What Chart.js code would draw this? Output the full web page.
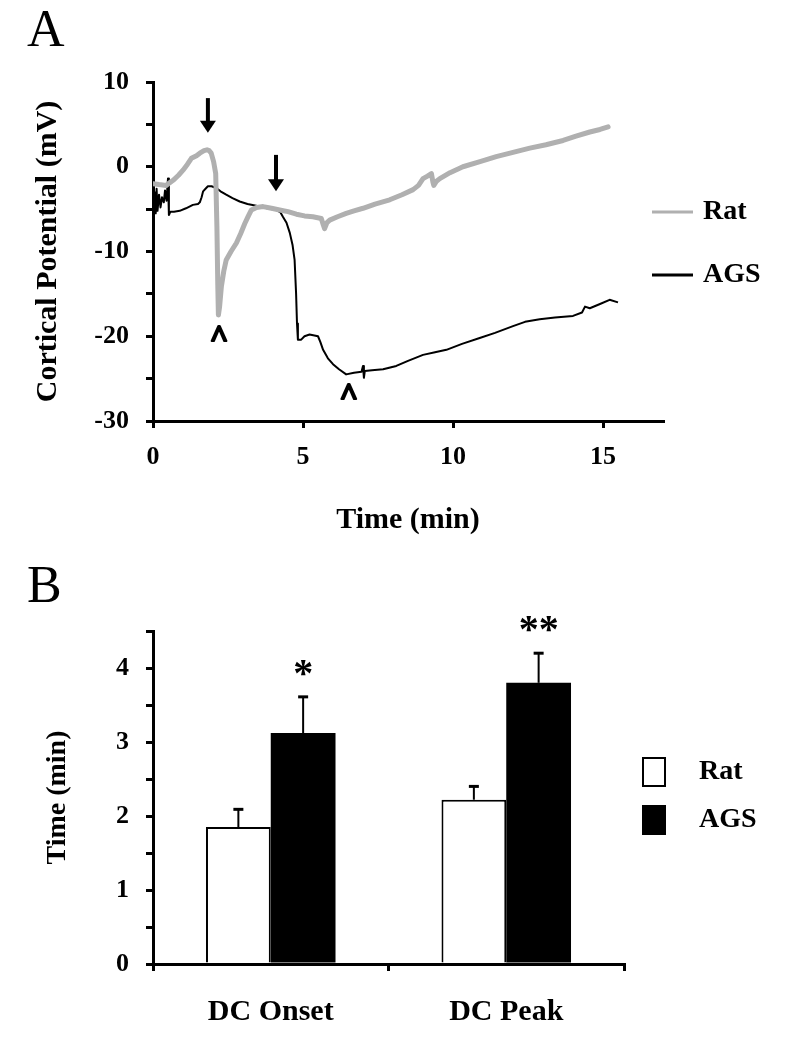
<!DOCTYPE html>
<html><head><meta charset="utf-8">
<script src="https://cdn.jsdelivr.net/npm/chart.js@4.4.1/dist/chart.umd.min.js"></script>
<style>
body{margin:0;background:#fff;width:786px;height:1050px;position:relative;overflow:hidden;font-family:"Liberation Serif","Times New Roman",serif}
.panel{position:absolute;left:27px;font-size:52px;line-height:1;font-family:"Liberation Serif","Times New Roman",serif;color:#000}
#cA{position:absolute;left:0;top:0}
#cB{position:absolute;left:0;top:540px}
</style></head><body>
<canvas id="cA" width="786" height="545"></canvas>
<canvas id="cB" width="786" height="510"></canvas>
<div class="panel" style="top:3px">A</div>
<div class="panel" style="top:559px">B</div>
<script>
// ---------- Panel A data ----------
const ratTime = [0,0.2,0.44,0.55,0.67,0.85,1.0,1.15,1.28,1.45,1.56,1.7,1.8,1.87,1.94,2.02,2.09,2.13,2.16,2.18,2.22,2.28,2.36,2.44,2.6,2.78,2.92,3.06,3.18,3.28,3.45,3.67,3.95,4.22,4.5,4.78,5.05,5.33,5.61,5.68,5.72,5.8,5.89,6.15,6.44,6.7,7.0,7.4,7.89,8.3,8.67,8.85,9.0,9.15,9.28,9.33,9.36,9.45,9.56,9.9,10.33,10.9,11.44,12.0,12.56,13.1,13.67,14.1,14.56,14.9,15.17];
const ratMv   = [-2.0,-2.1,-2.2,-1.9,-1.6,-1.0,-0.4,0.3,1.0,1.3,1.6,1.9,2.0,1.9,1.6,0.6,-0.8,-7.0,-14,-17.5,-16.5,-14.1,-12.3,-11.0,-10.0,-9.0,-7.9,-6.7,-5.8,-5.1,-4.8,-4.7,-4.9,-5.1,-5.3,-5.6,-5.8,-5.9,-6.1,-6.9,-7.3,-6.6,-6.3,-5.9,-5.5,-5.2,-4.9,-4.4,-3.9,-3.3,-2.7,-2.2,-1.4,-1.1,-0.8,-1.8,-2.2,-1.7,-1.4,-0.7,0.0,0.6,1.2,1.7,2.2,2.6,3.1,3.6,4.1,4.4,4.7];
const agsTime = [0,0.03,0.06,0.09,0.12,0.15,0.2,0.25,0.3,0.36,0.4,0.45,0.5,0.53,0.58,0.7,0.89,1.1,1.33,1.5,1.56,1.62,1.67,1.75,1.83,1.95,2.11,2.25,2.44,2.65,2.89,3.15,3.44,3.8,4.11,4.25,4.33,4.45,4.56,4.65,4.72,4.77,4.8,4.83,4.94,5.05,5.22,5.38,5.5,5.58,5.67,5.83,6.0,6.2,6.44,6.7,6.95,7.0,7.03,7.06,7.3,7.67,8.11,8.5,9.0,9.4,9.78,10.3,10.89,11.4,12.0,12.4,12.89,13.4,14.0,14.3,14.4,14.56,14.9,15.22,15.5];
const agsMv   = [-2.4,-5.0,-3.0,-5.5,-2.6,-5.2,-3.3,-4.8,-3.6,-4.2,-2.8,-4.0,-1.4,-5.7,-5.3,-5.3,-5.2,-4.9,-4.5,-4.4,-4.2,-3.6,-2.9,-2.6,-2.3,-2.3,-2.5,-2.9,-3.3,-3.7,-4.1,-4.4,-4.6,-4.9,-5.1,-5.4,-5.9,-6.6,-7.8,-9.2,-11.0,-15,-18.5,-20.4,-20.4,-20.0,-19.8,-19.9,-20.0,-20.7,-21.6,-22.6,-23.3,-23.9,-24.5,-24.3,-24.2,-23.5,-24.9,-24.1,-24.0,-23.9,-23.5,-22.9,-22.2,-21.9,-21.6,-20.9,-20.2,-19.6,-18.8,-18.3,-18.0,-17.8,-17.6,-17.2,-16.5,-16.7,-16.2,-15.7,-16.0];
const xTicksA = [0,5,10,15];
// annotations (data units)
const arrowT    = [1.83, 4.1];
const arrowFrom = [8.1, 1.4];
const arrowTo   = [4.0, -2.9];
const caretT    = [2.2, 6.53];
const caretMv   = [-19.4, -26.2];

// ---------- Panel B data ----------
const categoriesB = ['DC Onset','DC Peak'];
const ratMin  = [1.85, 2.22];
const ratSem  = [0.24, 0.18];
const agsMin  = [3.12, 3.80];
const agsSem  = [0.49, 0.40];
const sigMarks = ['*','**'];

const SERIF = '"Liberation Serif","Times New Roman",serif';
Chart.defaults.font.family = SERIF;
Chart.defaults.color = '#000';

function pts(xs, ys){ return xs.map((x,i)=>({x:x, y:ys[i]})); }

const annotA = {
  id:'annotA',
  afterDatasetsDraw(chart){
    const ctx = chart.ctx, xs = chart.scales.x, ys = chart.scales.y;
    ctx.save();
    ctx.fillStyle = '#000'; ctx.strokeStyle = '#000';
    arrowT.forEach((t,i)=>{
      const x = xs.getPixelForValue(t);
      const y0 = ys.getPixelForValue(arrowFrom[i]);
      const y1 = ys.getPixelForValue(arrowTo[i]);
      ctx.lineWidth = 4;
      ctx.beginPath(); ctx.moveTo(x, y0); ctx.lineTo(x, y1 - 10); ctx.stroke();
      ctx.beginPath(); ctx.moveTo(x - 8, y1 - 12); ctx.lineTo(x + 8, y1 - 12); ctx.lineTo(x, y1); ctx.closePath(); ctx.fill();
    });
    ctx.font = 'bold 32px ' + SERIF; ctx.textAlign = 'center'; ctx.textBaseline = 'alphabetic';
    ctx.lineWidth = 2; ctx.lineJoin = 'round';
    caretT.forEach((t,i)=>{
      const x = xs.getPixelForValue(t), y = ys.getPixelForValue(caretMv[i]);
      ctx.fillText('^', x, y + 16);
      ctx.strokeText('^', x, y + 16);
    });
    ctx.restore();
  },
  afterDraw(chart){
    const ctx = chart.ctx;
    ctx.save();
    chart.data.datasets.forEach((ds,i)=>{
      const y = 212 + i*63;
      ctx.strokeStyle = ds.borderColor; ctx.lineWidth = 3;
      ctx.beginPath(); ctx.moveTo(652, y); ctx.lineTo(693, y); ctx.stroke();
      ctx.fillStyle = '#000'; ctx.font = 'bold 28px ' + SERIF;
      ctx.textAlign = 'left'; ctx.textBaseline = 'middle';
      ctx.fillText(ds.label, 703, y);
    });
    ctx.restore();
  }
};

const axisStyle = {
  grid:{drawOnChartArea:false, drawTicks:true, tickLength:7, color:'#000', lineWidth:3},
  border:{display:true, color:'#000', width:3}
};

new Chart(document.getElementById('cA'), {
  type:'line',
  data:{datasets:[
    {label:'Rat', data:pts(ratTime, ratMv), borderColor:'#b0b0b0', borderWidth:5, pointRadius:0, tension:0, borderJoinStyle:'round', borderCapStyle:'round'},
    {label:'AGS', data:pts(agsTime, agsMv), borderColor:'#000', borderWidth:2, pointRadius:0, tension:0, borderJoinStyle:'round'}
  ]},
  options:{
    responsive:false, animation:false, devicePixelRatio:1,
    layout:{padding:{left:0, right:123, top:82, bottom:0}},
    plugins:{legend:{display:false}, tooltip:{enabled:false}},
    scales:{
      x:{type:'linear', min:0, max:17,
        ...axisStyle,
        afterBuildTicks(s){ s.ticks = xTicksA.map(v=>({value:v})); },
        afterFit(s){ s.height = 124; },
        ticks:{font:{size:26, weight:'bold'}, padding:14, maxRotation:0},
        title:{display:true, text:'Time (min)', font:{size:30, weight:'bold'}, padding:{top:0, bottom:7}}
      },
      y:{min:-30, max:10,
        ...axisStyle,
        afterFit(s){ s.width = 153; },
        ticks:{stepSize:5, font:{size:26, weight:'bold'}, padding:17,
          callback:(v)=> (v % 10 === 0 ? String(v) : '')},
        title:{display:true, text:'Cortical Potential (mV)', font:{size:30, weight:'bold'}, padding:{top:30, bottom:0}}
      }
    }
  },
  plugins:[annotA]
});

const annotB = {
  id:'annotB',
  afterDatasetsDraw(chart){
    const ctx = chart.ctx, ys = chart.scales.y;
    const errs = [ratSem, agsSem];
    ctx.save();
    ctx.strokeStyle = '#000'; ctx.fillStyle = '#000';
    chart.data.datasets.forEach((ds,di)=>{
      const meta = chart.getDatasetMeta(di);
      meta.data.forEach((bar,i)=>{
        const v = ds.data[i], e = errs[di][i];
        const yTop = ys.getPixelForValue(v), yE = ys.getPixelForValue(v + e);
        ctx.lineWidth = 2;
        ctx.beginPath(); ctx.moveTo(bar.x, yTop); ctx.lineTo(bar.x, yE); ctx.stroke();
        ctx.lineWidth = 3;
        ctx.beginPath(); ctx.moveTo(bar.x - 5, yE); ctx.lineTo(bar.x + 5, yE); ctx.stroke();
        if (di === 1) {
          ctx.font = 'bold 40px ' + SERIF; ctx.textAlign = 'center'; ctx.textBaseline = 'alphabetic';
          ctx.fillText(sigMarks[i], bar.x, yE - 30 + 19);
        }
      });
    });
    ctx.restore();
  },
  afterDraw(chart){
    const ctx = chart.ctx;
    ctx.save();
    chart.data.datasets.forEach((ds,i)=>{
      const yc = 232 + i*48;
      ctx.fillStyle = ds.backgroundColor; ctx.strokeStyle = '#000'; ctx.lineWidth = 2;
      ctx.fillRect(643, yc - 14, 22, 28); ctx.strokeRect(643, yc - 14, 22, 28);
      ctx.fillStyle = '#000'; ctx.font = 'bold 28px ' + SERIF;
      ctx.textAlign = 'left'; ctx.textBaseline = 'middle';
      ctx.fillText(ds.label, 699, yc);
    });
    ctx.restore();
  }
};

new Chart(document.getElementById('cB'), {
  type:'bar',
  data:{labels:categoriesB, datasets:[
    {label:'Rat', data:ratMin, backgroundColor:'#fff', borderColor:'#000', borderWidth:2, borderSkipped:'bottom'},
    {label:'AGS', data:agsMin, backgroundColor:'#000', borderColor:'#000', borderWidth:0}
  ]},
  options:{
    responsive:false, animation:false, devicePixelRatio:1,
    layout:{padding:{left:0, right:162, top:91, bottom:0}},
    plugins:{legend:{display:false}, tooltip:{enabled:false}},
    datasets:{bar:{categoryPercentage:0.55, barPercentage:1.0}},
    scales:{
      x:{...axisStyle,
        grid:{...axisStyle.grid, offset:true},
        afterFit(s){ s.height = 86; },
        ticks:{font:{size:30, weight:'bold'}, padding:23, maxRotation:0}
      },
      y:{min:0, max:4.5,
        ...axisStyle,
        afterFit(s){ s.width = 153; },
        ticks:{stepSize:0.5, font:{size:26, weight:'bold'}, padding:17,
          callback:(v)=> (Number.isInteger(v) ? String(v) : '')},
        title:{display:true, text:'Time (min)', font:{size:28, weight:'bold'}, padding:{top:41, bottom:0}}
      }
    }
  },
  plugins:[annotB]
});
</script>
</body></html>
